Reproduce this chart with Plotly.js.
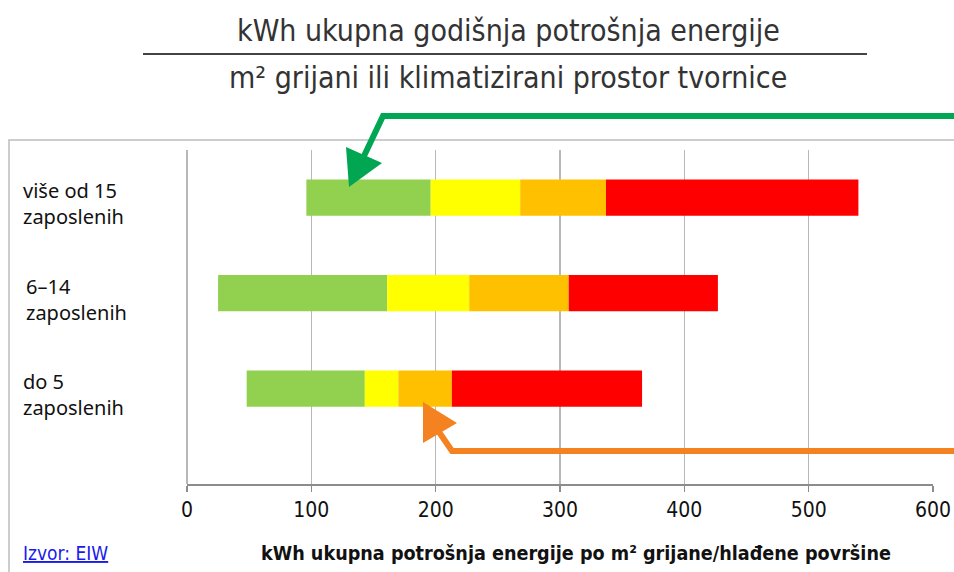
<!DOCTYPE html>
<html>
<head>
<meta charset="utf-8">
<script src="https://cdn.plot.ly/plotly-3.0.1.min.js"></script>
<style>html,body{margin:0;padding:0;background:#fff;}#chart{width:954px;height:572px;}</style>
</head>
<body>
<div id="chart"></div>
<script>
// Categories (bottom to top)
const categories = ["do 5", "6–14", "više od 15"];
const categoryLabels = ["do 5<br>zaposlenih", "6–14<br>zaposlenih", "više od 15<br>zaposlenih"];
// Segment boundaries (kWh/m²)
const startValues  = [48, 25, 96];
const greenEnd     = [143, 161, 196];
const yellowEnd    = [170, 227, 268];
const orangeEnd    = [213, 307, 337];
const redEnd       = [366, 427, 540];
const xTicks = [0, 100, 200, 300, 400, 500, 600];

const titleLine1 = "kWh ukupna godišnja potrošnja energije";
const titleLine2 = "m² grijani ili klimatizirani prostor tvornice";
const xTitle = "kWh ukupna potrošnja energije po m² grijane/hlađene površine";
const sourceText = "Izvor: EIW";

const W = 954, H = 572;
const M = {l: 187, r: 21, t: 150, b: 88};
const PW = W - M.l - M.r, PH = H - M.t - M.b;
const px = x => (x - M.l) / PW;
const py = y => (H - M.b - y) / PH;
const P = (x, y) => px(x).toFixed(5) + "," + py(y).toFixed(5);

const condensed = "'Liberation Sans Narrow', 'Arial Narrow', 'DejaVu Sans Condensed', sans-serif";
const humanist = "'Noto Sans', 'Open Sans', sans-serif";

function seg(from, to, color, name) {
  return {
    type: "bar", orientation: "h", name: name,
    y: categories, base: from, x: to.map((v, i) => v - from[i]),
    marker: {color: color, line: {width: 0}},
    width: 0.38, hoverinfo: "skip"
  };
}

const data = [
  seg(startValues, greenEnd, "#92d050", "A"),
  seg(greenEnd, yellowEnd, "#ffff00", "B"),
  seg(yellowEnd, orangeEnd, "#ffc000", "C"),
  seg(orangeEnd, redEnd, "#ff0000", "D")
];

const annotations = categories.map((c, i) => ({
  xref: "paper", yref: "y", x: px(i === 1 ? 24 : 21), y: c, yshift: -6,
  xanchor: "left", yanchor: "middle", align: "left", showarrow: false,
  text: categoryLabels[i], font: {family: humanist, size: 20, color: "#111"}
}));
annotations.push(
  {xref: "paper", yref: "paper", x: px(508), y: py(30), xanchor: "center", yanchor: "middle", showarrow: false,
   text: titleLine1, font: {family: condensed, size: 30, color: "#333"}},
  {xref: "paper", yref: "paper", x: px(508), y: py(77), xanchor: "center", yanchor: "middle", showarrow: false,
   text: titleLine2, font: {family: condensed, size: 30, color: "#333"}},
  {xref: "paper", yref: "paper", x: px(576), y: py(553), xanchor: "center", yanchor: "middle", showarrow: false,
   text: "<b>" + xTitle + "</b>", font: {family: condensed, size: 19.6, color: "#111"}},
  {xref: "paper", yref: "paper", x: px(21), y: py(553), xanchor: "left", yanchor: "middle", showarrow: false,
   text: '<span style="text-decoration:underline">' + sourceText + '</span>', font: {family: condensed, size: 19, color: "#1a1aee"}}
);

const shapes = [
  {type: "rect", xref: "paper", yref: "paper", x0: px(9), y0: py(140), x1: px(975), y1: py(600),
   line: {color: "#bdbdbd", width: 1.5}, fillcolor: "rgba(0,0,0,0)", layer: "below"},
  {type: "line", xref: "paper", yref: "paper", x0: px(143), y0: py(54), x1: px(867), y1: py(54),
   line: {color: "#444", width: 2}},
  {type: "path", xref: "paper", yref: "paper", layer: "above",
   path: "M" + P(975, 116) + " L" + P(383, 116) + " L" + P(364, 156),
   line: {color: "#00a651", width: 6}},
  {type: "path", xref: "paper", yref: "paper", layer: "above",
   path: "M" + P(346, 147) + " L" + P(382, 163) + " L" + P(349, 187) + " Z",
   fillcolor: "#00a651", line: {color: "#00a651", width: 0}},
  {type: "path", xref: "paper", yref: "paper", layer: "above",
   path: "M" + P(975, 451) + " L" + P(452, 451) + " L" + P(439, 432),
   line: {color: "#f58220", width: 6}},
  {type: "path", xref: "paper", yref: "paper", layer: "above",
   path: "M" + P(423, 402) + " L" + P(423, 443) + " L" + P(457, 423) + " Z",
   fillcolor: "#f58220", line: {color: "#f58220", width: 0}}
];

const layout = {
  width: W, height: H,
  margin: M,
  paper_bgcolor: "#fff", plot_bgcolor: "#fff",
  showlegend: false,
  barmode: "overlay",
  xaxis: {
    range: [0, 600], tickvals: xTicks, ticktext: xTicks.map(String),
    showgrid: true, gridcolor: "#b8b8b8", gridwidth: 1.3,
    zeroline: true, zerolinecolor: "#b8b8b8", zerolinewidth: 1.3,
    showline: true, linecolor: "#8c8c8c", linewidth: 2,
    ticks: "outside", ticklen: 6, tickcolor: "#8c8c8c", tickwidth: 1.3,
    tickfont: {family: condensed, size: 21, color: "#111"}, fixedrange: true
  },
  yaxis: {
    type: "category", categoryarray: categories, range: [-1, 2.5],
    showgrid: false, zeroline: false, showline: false, showticklabels: false, ticks: "", fixedrange: true
  },
  annotations: annotations,
  shapes: shapes
};

Plotly.newPlot("chart", data, layout, {displayModeBar: false, staticPlot: true});
</script>
</body>
</html>
